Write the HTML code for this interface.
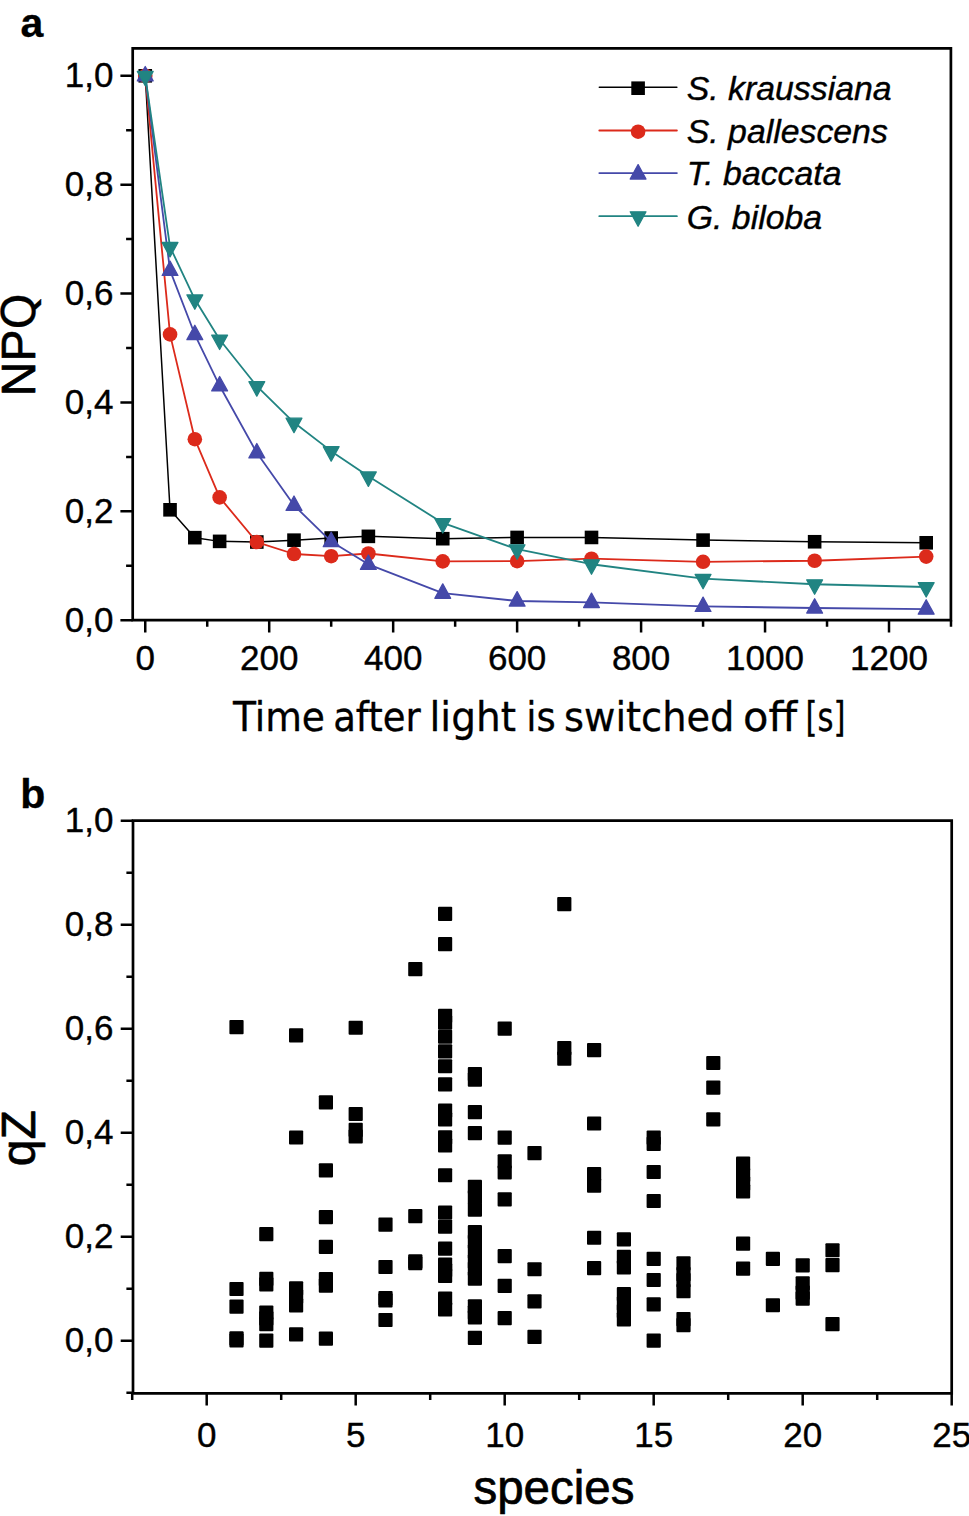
<!DOCTYPE html>
<html lang="en"><head><meta charset="utf-8"><title>NPQ relaxation and qZ by species</title>
<style>html,body{margin:0;padding:0;background:#fff}svg{display:block}text{font-family:"Liberation Sans",Arial,sans-serif;fill:#000;stroke:#000;stroke-linejoin:round}.tl{font-size:35px;stroke-width:.4px}.it{font-style:italic;font-size:33.8px;stroke-width:.4px}.pl{font-weight:bold;font-size:41px;stroke-width:.3px}.al{font-size:48px;stroke-width:.7px}.qg{font-family:"DejaVu Sans","Liberation Sans",sans-serif;font-size:46px;stroke-width:.35px}.xl{font-family:"DejaVu Sans Condensed","DejaVu Sans","Liberation Sans",sans-serif;font-size:41px;stroke-width:.3px}</style></head><body>
<svg width="969" height="1516" viewBox="0 0 969 1516">
<rect width="969" height="1516" fill="#fff"/>
<g id="panel-a">
<text class="pl" x="20.5" y="37.2">a</text>
<polyline points="145.25,75.8 170.04,509.8 194.83,537.67 219.63,541.37 256.81,542.02 294,540.17 331.19,538 368.38,536.36 442.75,538.7 517.13,537.45 591.51,537.45 703.07,540.12 814.63,541.75 926.2,542.79" fill="none" stroke="#000000" stroke-width="1.5" stroke-linejoin="round"/>
<rect x="138.45" y="69" width="13.6" height="13.6" fill="#000000"/>
<rect x="163.24" y="503" width="13.6" height="13.6" fill="#000000"/>
<rect x="188.03" y="530.87" width="13.6" height="13.6" fill="#000000"/>
<rect x="212.83" y="534.57" width="13.6" height="13.6" fill="#000000"/>
<rect x="250.01" y="535.22" width="13.6" height="13.6" fill="#000000"/>
<rect x="287.2" y="533.37" width="13.6" height="13.6" fill="#000000"/>
<rect x="324.39" y="531.2" width="13.6" height="13.6" fill="#000000"/>
<rect x="361.58" y="529.56" width="13.6" height="13.6" fill="#000000"/>
<rect x="435.95" y="531.9" width="13.6" height="13.6" fill="#000000"/>
<rect x="510.33" y="530.65" width="13.6" height="13.6" fill="#000000"/>
<rect x="584.71" y="530.65" width="13.6" height="13.6" fill="#000000"/>
<rect x="696.27" y="533.32" width="13.6" height="13.6" fill="#000000"/>
<rect x="807.83" y="534.95" width="13.6" height="13.6" fill="#000000"/>
<rect x="919.4" y="535.99" width="13.6" height="13.6" fill="#000000"/>
<polyline points="145.25,75.8 170.04,334.39 194.83,439.19 219.63,497.38 256.81,542.02 294,554 331.19,556.18 368.38,553.51 442.75,561.4 517.13,561.13 591.51,558.68 703.07,561.79 814.63,560.75 926.2,556.61" fill="none" stroke="#dc2a1b" stroke-width="1.8" stroke-linejoin="round"/>
<circle cx="145.25" cy="75.8" r="7.3" fill="#dc2a1b"/>
<circle cx="170.04" cy="334.39" r="7.3" fill="#dc2a1b"/>
<circle cx="194.83" cy="439.19" r="7.3" fill="#dc2a1b"/>
<circle cx="219.63" cy="497.38" r="7.3" fill="#dc2a1b"/>
<circle cx="256.81" cy="542.02" r="7.3" fill="#dc2a1b"/>
<circle cx="294" cy="554" r="7.3" fill="#dc2a1b"/>
<circle cx="331.19" cy="556.18" r="7.3" fill="#dc2a1b"/>
<circle cx="368.38" cy="553.51" r="7.3" fill="#dc2a1b"/>
<circle cx="442.75" cy="561.4" r="7.3" fill="#dc2a1b"/>
<circle cx="517.13" cy="561.13" r="7.3" fill="#dc2a1b"/>
<circle cx="591.51" cy="558.68" r="7.3" fill="#dc2a1b"/>
<circle cx="703.07" cy="561.79" r="7.3" fill="#dc2a1b"/>
<circle cx="814.63" cy="560.75" r="7.3" fill="#dc2a1b"/>
<circle cx="926.2" cy="556.61" r="7.3" fill="#dc2a1b"/>
<polyline points="145.25,75.8 170.04,270.37 194.83,334.55 219.63,385.78 256.81,452.8 294,505.33 331.19,541.53 368.38,564.29 442.75,593.14 517.13,600.98 591.51,602.45 703.07,606.37 814.63,608.01 926.2,609.04" fill="none" stroke="#4549a9" stroke-width="1.8" stroke-linejoin="round"/>
<polygon points="145.25,66.5 153.15,80.9 137.35,80.9" fill="#4549a9" stroke="#4549a9" stroke-width="1.3" stroke-linejoin="round"/>
<polygon points="170.04,261.07 177.94,275.47 162.14,275.47" fill="#4549a9" stroke="#4549a9" stroke-width="1.3" stroke-linejoin="round"/>
<polygon points="194.83,325.25 202.73,339.65 186.93,339.65" fill="#4549a9" stroke="#4549a9" stroke-width="1.3" stroke-linejoin="round"/>
<polygon points="219.63,376.48 227.53,390.88 211.73,390.88" fill="#4549a9" stroke="#4549a9" stroke-width="1.3" stroke-linejoin="round"/>
<polygon points="256.81,443.5 264.71,457.9 248.91,457.9" fill="#4549a9" stroke="#4549a9" stroke-width="1.3" stroke-linejoin="round"/>
<polygon points="294,496.03 301.9,510.43 286.1,510.43" fill="#4549a9" stroke="#4549a9" stroke-width="1.3" stroke-linejoin="round"/>
<polygon points="331.19,532.23 339.09,546.63 323.29,546.63" fill="#4549a9" stroke="#4549a9" stroke-width="1.3" stroke-linejoin="round"/>
<polygon points="368.38,554.99 376.28,569.39 360.48,569.39" fill="#4549a9" stroke="#4549a9" stroke-width="1.3" stroke-linejoin="round"/>
<polygon points="442.75,583.84 450.65,598.24 434.85,598.24" fill="#4549a9" stroke="#4549a9" stroke-width="1.3" stroke-linejoin="round"/>
<polygon points="517.13,591.68 525.03,606.08 509.23,606.08" fill="#4549a9" stroke="#4549a9" stroke-width="1.3" stroke-linejoin="round"/>
<polygon points="591.51,593.15 599.41,607.55 583.61,607.55" fill="#4549a9" stroke="#4549a9" stroke-width="1.3" stroke-linejoin="round"/>
<polygon points="703.07,597.07 710.97,611.47 695.17,611.47" fill="#4549a9" stroke="#4549a9" stroke-width="1.3" stroke-linejoin="round"/>
<polygon points="814.63,598.71 822.53,613.11 806.73,613.11" fill="#4549a9" stroke="#4549a9" stroke-width="1.3" stroke-linejoin="round"/>
<polygon points="926.2,599.74 934.1,614.14 918.3,614.14" fill="#4549a9" stroke="#4549a9" stroke-width="1.3" stroke-linejoin="round"/>
<polyline points="145.25,75.8 170.04,246.9 194.83,299.28 219.63,339.51 256.81,386.16 294,422.58 331.19,451.16 368.38,476.32 442.75,522.97 517.13,549.21 591.51,564.24 703.07,578.72 814.63,584.27 926.2,586.99" fill="none" stroke="#218482" stroke-width="1.8" stroke-linejoin="round"/>
<polygon points="137.35,71.4 153.15,71.4 145.25,85.8" fill="#218482" stroke="#218482" stroke-width="1.3" stroke-linejoin="round"/>
<polygon points="162.14,242.5 177.94,242.5 170.04,256.9" fill="#218482" stroke="#218482" stroke-width="1.3" stroke-linejoin="round"/>
<polygon points="186.93,294.88 202.73,294.88 194.83,309.28" fill="#218482" stroke="#218482" stroke-width="1.3" stroke-linejoin="round"/>
<polygon points="211.73,335.11 227.53,335.11 219.63,349.51" fill="#218482" stroke="#218482" stroke-width="1.3" stroke-linejoin="round"/>
<polygon points="248.91,381.76 264.71,381.76 256.81,396.16" fill="#218482" stroke="#218482" stroke-width="1.3" stroke-linejoin="round"/>
<polygon points="286.1,418.18 301.9,418.18 294,432.58" fill="#218482" stroke="#218482" stroke-width="1.3" stroke-linejoin="round"/>
<polygon points="323.29,446.76 339.09,446.76 331.19,461.16" fill="#218482" stroke="#218482" stroke-width="1.3" stroke-linejoin="round"/>
<polygon points="360.48,471.92 376.28,471.92 368.38,486.32" fill="#218482" stroke="#218482" stroke-width="1.3" stroke-linejoin="round"/>
<polygon points="434.85,518.57 450.65,518.57 442.75,532.97" fill="#218482" stroke="#218482" stroke-width="1.3" stroke-linejoin="round"/>
<polygon points="509.23,544.81 525.03,544.81 517.13,559.21" fill="#218482" stroke="#218482" stroke-width="1.3" stroke-linejoin="round"/>
<polygon points="583.61,559.84 599.41,559.84 591.51,574.24" fill="#218482" stroke="#218482" stroke-width="1.3" stroke-linejoin="round"/>
<polygon points="695.17,574.32 710.97,574.32 703.07,588.72" fill="#218482" stroke="#218482" stroke-width="1.3" stroke-linejoin="round"/>
<polygon points="806.73,579.87 822.53,579.87 814.63,594.27" fill="#218482" stroke="#218482" stroke-width="1.3" stroke-linejoin="round"/>
<polygon points="918.3,582.59 934.1,582.59 926.2,596.99" fill="#218482" stroke="#218482" stroke-width="1.3" stroke-linejoin="round"/>
<g stroke="#000" stroke-width="2.7" fill="none" stroke-linecap="square">
<path d="M132.7 48.3H950.9V620.2H132.7Z"/>
</g>
<g stroke="#000" stroke-width="2.5" fill="none">
<path d="M145.25 620.2v12.3M269.21 620.2v12.3M393.17 620.2v12.3M517.13 620.2v12.3M641.09 620.2v12.3M765.05 620.2v12.3M889.01 620.2v12.3M207.23 620.2v6.6M331.19 620.2v6.6M455.15 620.2v6.6M579.11 620.2v6.6M703.07 620.2v6.6M827.03 620.2v6.6M950.99 620.2v6.6M132.7 620.2h-12.3M132.7 511.32h-12.3M132.7 402.44h-12.3M132.7 293.56h-12.3M132.7 184.68h-12.3M132.7 75.8h-12.3M132.7 565.76h-6.6M132.7 456.88h-6.6M132.7 348h-6.6M132.7 239.12h-6.6M132.7 130.24h-6.6"/>
</g>
<g class="tl" text-anchor="end">
<text x="113.5" y="631.8">0,0</text>
<text x="113.5" y="522.92">0,2</text>
<text x="113.5" y="414.04">0,4</text>
<text x="113.5" y="305.16">0,6</text>
<text x="113.5" y="196.28">0,8</text>
<text x="113.5" y="87.4">1,0</text>
</g>
<g class="tl" text-anchor="middle">
<text x="145.25" y="669.6">0</text>
<text x="269.21" y="669.6">200</text>
<text x="393.17" y="669.6">400</text>
<text x="517.13" y="669.6">600</text>
<text x="641.09" y="669.6">800</text>
<text x="765.05" y="669.6">1000</text>
<text x="889.01" y="669.6">1200</text>
</g>
<text class="al" transform="translate(35.3 396.2) rotate(-90)">NP<tspan class="qg">Q</tspan></text>
<text class="xl" y="730.6"><tspan x="233.0" textLength="92.0" lengthAdjust="spacingAndGlyphs">Time</tspan> <tspan x="333.2" textLength="87.5" lengthAdjust="spacingAndGlyphs">after</tspan> <tspan x="429.5" textLength="86.5" lengthAdjust="spacingAndGlyphs">light</tspan> <tspan x="526.3" textLength="29.5" lengthAdjust="spacingAndGlyphs">is</tspan> <tspan x="564.0" textLength="170.5" lengthAdjust="spacingAndGlyphs">switched</tspan> <tspan x="743.0" textLength="54.0" lengthAdjust="spacingAndGlyphs">off</tspan> <tspan x="805.5" textLength="40.0" lengthAdjust="spacingAndGlyphs">[s]</tspan></text>
<line x1="599.3" y1="87.3" x2="676.9" y2="87.3" stroke="#000000" stroke-width="1.5" stroke-linecap="round"/>
<rect x="631.3" y="81.4" width="13.6" height="13.6" fill="#000000"/>
<text class="it" x="686.8" y="99.6">S. kraussiana</text>
<line x1="599.3" y1="130.5" x2="676.9" y2="130.5" stroke="#dc2a1b" stroke-width="1.8" stroke-linecap="round"/>
<circle cx="638.1" cy="131.7" r="7.3" fill="#dc2a1b"/>
<text class="it" x="686.8" y="142.8">S. pallescens</text>
<line x1="599.3" y1="173.1" x2="676.9" y2="173.1" stroke="#4549a9" stroke-width="1.8" stroke-linecap="round"/>
<polygon points="638.1,164.6 646,179 630.2,179" fill="#4549a9" stroke="#4549a9" stroke-width="1.3" stroke-linejoin="round"/>
<text class="it" x="686.8" y="185.4">T. baccata</text>
<line x1="599.3" y1="216.2" x2="676.9" y2="216.2" stroke="#218482" stroke-width="1.8" stroke-linecap="round"/>
<polygon points="630.2,211.8 646,211.8 638.1,226.2" fill="#218482" stroke="#218482" stroke-width="1.3" stroke-linejoin="round"/>
<text class="it" x="686.8" y="228.5">G. biloba</text>
</g>
<g id="panel-b">
<text class="pl" x="20.3" y="808.2">b</text>
<g fill="#000">
<rect x="229.4" y="1020.04" width="14.2" height="14.2" rx="1"/>
<rect x="229.4" y="1281.91" width="14.2" height="14.2" rx="1"/>
<rect x="229.4" y="1299.54" width="14.2" height="14.2" rx="1"/>
<rect x="229.4" y="1331.21" width="14.2" height="14.2" rx="1"/>
<rect x="229.4" y="1333.18" width="14.2" height="14.2" rx="1"/>
<rect x="259.2" y="1227" width="14.2" height="14.2" rx="1"/>
<rect x="259.2" y="1271.72" width="14.2" height="14.2" rx="1"/>
<rect x="259.2" y="1277.23" width="14.2" height="14.2" rx="1"/>
<rect x="259.2" y="1305.52" width="14.2" height="14.2" rx="1"/>
<rect x="259.2" y="1311.24" width="14.2" height="14.2" rx="1"/>
<rect x="259.2" y="1317.12" width="14.2" height="14.2" rx="1"/>
<rect x="259.2" y="1333.44" width="14.2" height="14.2" rx="1"/>
<rect x="289" y="1028.36" width="14.2" height="14.2" rx="1"/>
<rect x="289" y="1130.38" width="14.2" height="14.2" rx="1"/>
<rect x="289" y="1281.18" width="14.2" height="14.2" rx="1"/>
<rect x="289" y="1289.61" width="14.2" height="14.2" rx="1"/>
<rect x="289" y="1298.24" width="14.2" height="14.2" rx="1"/>
<rect x="289" y="1327.26" width="14.2" height="14.2" rx="1"/>
<rect x="318.8" y="1095.18" width="14.2" height="14.2" rx="1"/>
<rect x="318.8" y="1163.3" width="14.2" height="14.2" rx="1"/>
<rect x="318.8" y="1210.1" width="14.2" height="14.2" rx="1"/>
<rect x="318.8" y="1239.84" width="14.2" height="14.2" rx="1"/>
<rect x="318.8" y="1272.03" width="14.2" height="14.2" rx="1"/>
<rect x="318.8" y="1278.48" width="14.2" height="14.2" rx="1"/>
<rect x="318.8" y="1331.47" width="14.2" height="14.2" rx="1"/>
<rect x="348.6" y="1020.66" width="14.2" height="14.2" rx="1"/>
<rect x="348.6" y="1106.88" width="14.2" height="14.2" rx="1"/>
<rect x="348.6" y="1122.69" width="14.2" height="14.2" rx="1"/>
<rect x="348.6" y="1129.4" width="14.2" height="14.2" rx="1"/>
<rect x="378.4" y="1217.54" width="14.2" height="14.2" rx="1"/>
<rect x="378.4" y="1259.92" width="14.2" height="14.2" rx="1"/>
<rect x="378.4" y="1291.12" width="14.2" height="14.2" rx="1"/>
<rect x="378.4" y="1293.3" width="14.2" height="14.2" rx="1"/>
<rect x="378.4" y="1312.9" width="14.2" height="14.2" rx="1"/>
<rect x="408.2" y="962.06" width="14.2" height="14.2" rx="1"/>
<rect x="408.2" y="1209.11" width="14.2" height="14.2" rx="1"/>
<rect x="408.2" y="1254.2" width="14.2" height="14.2" rx="1"/>
<rect x="408.2" y="1256.17" width="14.2" height="14.2" rx="1"/>
<rect x="438" y="906.84" width="14.2" height="14.2" rx="1"/>
<rect x="438" y="937.05" width="14.2" height="14.2" rx="1"/>
<rect x="438" y="1008.86" width="14.2" height="14.2" rx="1"/>
<rect x="438" y="1015.57" width="14.2" height="14.2" rx="1"/>
<rect x="438" y="1029.66" width="14.2" height="14.2" rx="1"/>
<rect x="438" y="1044.32" width="14.2" height="14.2" rx="1"/>
<rect x="438" y="1059.14" width="14.2" height="14.2" rx="1"/>
<rect x="438" y="1077.24" width="14.2" height="14.2" rx="1"/>
<rect x="438" y="1103.5" width="14.2" height="14.2" rx="1"/>
<rect x="438" y="1112.18" width="14.2" height="14.2" rx="1"/>
<rect x="438" y="1130.28" width="14.2" height="14.2" rx="1"/>
<rect x="438" y="1138.18" width="14.2" height="14.2" rx="1"/>
<rect x="438" y="1168.14" width="14.2" height="14.2" rx="1"/>
<rect x="438" y="1205.42" width="14.2" height="14.2" rx="1"/>
<rect x="438" y="1219.51" width="14.2" height="14.2" rx="1"/>
<rect x="438" y="1241.56" width="14.2" height="14.2" rx="1"/>
<rect x="438" y="1257.42" width="14.2" height="14.2" rx="1"/>
<rect x="438" y="1263.14" width="14.2" height="14.2" rx="1"/>
<rect x="438" y="1268.81" width="14.2" height="14.2" rx="1"/>
<rect x="438" y="1291.38" width="14.2" height="14.2" rx="1"/>
<rect x="438" y="1302.24" width="14.2" height="14.2" rx="1"/>
<rect x="467.8" y="1067.1" width="14.2" height="14.2" rx="1"/>
<rect x="467.8" y="1072.56" width="14.2" height="14.2" rx="1"/>
<rect x="467.8" y="1105.01" width="14.2" height="14.2" rx="1"/>
<rect x="467.8" y="1126.07" width="14.2" height="14.2" rx="1"/>
<rect x="467.8" y="1179.78" width="14.2" height="14.2" rx="1"/>
<rect x="467.8" y="1189.92" width="14.2" height="14.2" rx="1"/>
<rect x="467.8" y="1202.56" width="14.2" height="14.2" rx="1"/>
<rect x="467.8" y="1224.97" width="14.2" height="14.2" rx="1"/>
<rect x="467.8" y="1234.64" width="14.2" height="14.2" rx="1"/>
<rect x="467.8" y="1244.52" width="14.2" height="14.2" rx="1"/>
<rect x="467.8" y="1254.46" width="14.2" height="14.2" rx="1"/>
<rect x="467.8" y="1261.84" width="14.2" height="14.2" rx="1"/>
<rect x="467.8" y="1271.56" width="14.2" height="14.2" rx="1"/>
<rect x="467.8" y="1299.28" width="14.2" height="14.2" rx="1"/>
<rect x="467.8" y="1305.21" width="14.2" height="14.2" rx="1"/>
<rect x="467.8" y="1310.41" width="14.2" height="14.2" rx="1"/>
<rect x="467.8" y="1330.74" width="14.2" height="14.2" rx="1"/>
<rect x="497.6" y="1021.6" width="14.2" height="14.2" rx="1"/>
<rect x="497.6" y="1130.49" width="14.2" height="14.2" rx="1"/>
<rect x="497.6" y="1154.25" width="14.2" height="14.2" rx="1"/>
<rect x="497.6" y="1165.38" width="14.2" height="14.2" rx="1"/>
<rect x="497.6" y="1192.26" width="14.2" height="14.2" rx="1"/>
<rect x="497.6" y="1249" width="14.2" height="14.2" rx="1"/>
<rect x="497.6" y="1278.74" width="14.2" height="14.2" rx="1"/>
<rect x="497.6" y="1310.93" width="14.2" height="14.2" rx="1"/>
<rect x="527.4" y="1146.09" width="14.2" height="14.2" rx="1"/>
<rect x="527.4" y="1262.15" width="14.2" height="14.2" rx="1"/>
<rect x="527.4" y="1294.34" width="14.2" height="14.2" rx="1"/>
<rect x="527.4" y="1329.75" width="14.2" height="14.2" rx="1"/>
<rect x="557.2" y="896.96" width="14.2" height="14.2" rx="1"/>
<rect x="557.2" y="1041.1" width="14.2" height="14.2" rx="1"/>
<rect x="557.2" y="1051.5" width="14.2" height="14.2" rx="1"/>
<rect x="587" y="1043.08" width="14.2" height="14.2" rx="1"/>
<rect x="587" y="1116.4" width="14.2" height="14.2" rx="1"/>
<rect x="587" y="1166.89" width="14.2" height="14.2" rx="1"/>
<rect x="587" y="1178.54" width="14.2" height="14.2" rx="1"/>
<rect x="587" y="1230.64" width="14.2" height="14.2" rx="1"/>
<rect x="587" y="1261.11" width="14.2" height="14.2" rx="1"/>
<rect x="616.8" y="1232.36" width="14.2" height="14.2" rx="1"/>
<rect x="616.8" y="1249.72" width="14.2" height="14.2" rx="1"/>
<rect x="616.8" y="1260.38" width="14.2" height="14.2" rx="1"/>
<rect x="616.8" y="1287.11" width="14.2" height="14.2" rx="1"/>
<rect x="616.8" y="1296.58" width="14.2" height="14.2" rx="1"/>
<rect x="616.8" y="1303.96" width="14.2" height="14.2" rx="1"/>
<rect x="616.8" y="1312.18" width="14.2" height="14.2" rx="1"/>
<rect x="646.6" y="1130.49" width="14.2" height="14.2" rx="1"/>
<rect x="646.6" y="1136.68" width="14.2" height="14.2" rx="1"/>
<rect x="646.6" y="1164.91" width="14.2" height="14.2" rx="1"/>
<rect x="646.6" y="1193.88" width="14.2" height="14.2" rx="1"/>
<rect x="646.6" y="1251.86" width="14.2" height="14.2" rx="1"/>
<rect x="646.6" y="1272.92" width="14.2" height="14.2" rx="1"/>
<rect x="646.6" y="1297.2" width="14.2" height="14.2" rx="1"/>
<rect x="646.6" y="1333.6" width="14.2" height="14.2" rx="1"/>
<rect x="676.4" y="1256.28" width="14.2" height="14.2" rx="1"/>
<rect x="676.4" y="1266.94" width="14.2" height="14.2" rx="1"/>
<rect x="676.4" y="1273.12" width="14.2" height="14.2" rx="1"/>
<rect x="676.4" y="1283.99" width="14.2" height="14.2" rx="1"/>
<rect x="676.4" y="1312.02" width="14.2" height="14.2" rx="1"/>
<rect x="676.4" y="1318" width="14.2" height="14.2" rx="1"/>
<rect x="706.2" y="1055.92" width="14.2" height="14.2" rx="1"/>
<rect x="706.2" y="1080.46" width="14.2" height="14.2" rx="1"/>
<rect x="706.2" y="1112.18" width="14.2" height="14.2" rx="1"/>
<rect x="736" y="1156.49" width="14.2" height="14.2" rx="1"/>
<rect x="736" y="1167.88" width="14.2" height="14.2" rx="1"/>
<rect x="736" y="1176.56" width="14.2" height="14.2" rx="1"/>
<rect x="736" y="1184.2" width="14.2" height="14.2" rx="1"/>
<rect x="736" y="1236.52" width="14.2" height="14.2" rx="1"/>
<rect x="736" y="1261.53" width="14.2" height="14.2" rx="1"/>
<rect x="765.8" y="1251.86" width="14.2" height="14.2" rx="1"/>
<rect x="765.8" y="1298.14" width="14.2" height="14.2" rx="1"/>
<rect x="795.6" y="1258.3" width="14.2" height="14.2" rx="1"/>
<rect x="795.6" y="1276.14" width="14.2" height="14.2" rx="1"/>
<rect x="795.6" y="1285.55" width="14.2" height="14.2" rx="1"/>
<rect x="795.6" y="1291.48" width="14.2" height="14.2" rx="1"/>
<rect x="825.4" y="1243.17" width="14.2" height="14.2" rx="1"/>
<rect x="825.4" y="1258.04" width="14.2" height="14.2" rx="1"/>
<rect x="825.4" y="1316.96" width="14.2" height="14.2" rx="1"/>
</g>
<g stroke="#000" stroke-width="2.7" fill="none" stroke-linecap="square">
<path d="M133 820.6H951.7V1393.3H133Z"/>
</g>
<g stroke="#000" stroke-width="2.5" fill="none">
<path d="M206.7 1393.3v12.3M355.7 1393.3v12.3M504.7 1393.3v12.3M653.7 1393.3v12.3M802.7 1393.3v12.3M951.7 1393.3v12.3M132.2 1393.3v6.6M281.2 1393.3v6.6M430.2 1393.3v6.6M579.2 1393.3v6.6M728.2 1393.3v6.6M877.2 1393.3v6.6M133 1340.7h-12.3M133 1236.7h-12.3M133 1132.7h-12.3M133 1028.7h-12.3M133 924.7h-12.3M133 820.7h-12.3M133 1392.7h-6.6M133 1288.7h-6.6M133 1184.7h-6.6M133 1080.7h-6.6M133 976.7h-6.6M133 872.7h-6.6"/>
</g>
<g class="tl" text-anchor="end">
<text x="113.5" y="1352.3">0,0</text>
<text x="113.5" y="1248.3">0,2</text>
<text x="113.5" y="1144.3">0,4</text>
<text x="113.5" y="1040.3">0,6</text>
<text x="113.5" y="936.3">0,8</text>
<text x="113.5" y="832.3">1,0</text>
</g>
<g class="tl" text-anchor="middle">
<text x="206.7" y="1447.2">0</text>
<text x="355.7" y="1447.2">5</text>
<text x="504.7" y="1447.2">10</text>
<text x="653.7" y="1447.2">15</text>
<text x="802.7" y="1447.2">20</text>
<text x="951.7" y="1447.2">25</text>
</g>
<text class="al" transform="translate(35.3 1166.2) rotate(-90)">qZ</text>
<text class="al" x="473.4" y="1504.4" style="font-size:47.5px">species</text>
</g>
</svg></body></html>
